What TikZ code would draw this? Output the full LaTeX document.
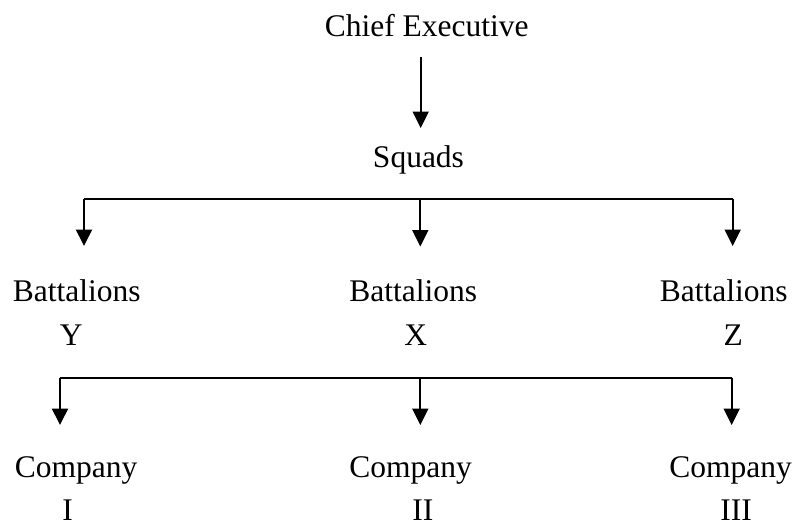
\documentclass[tikz,border=0pt]{standalone}
\usepackage{fontspec}
\setmainfont{Liberation Serif}
\usetikzlibrary{arrows.meta}
\begin{document}
\begin{tikzpicture}[x=1pt,y=-1pt,
  lbl/.style={anchor=base,inner sep=0pt,font=\fontsize{31.5}{38}\selectfont},
  wire/.style={line width=2pt},
  arr/.style={wire,-{Triangle[length=16.5pt,width=16pt]}}]
\useasboundingbox (0,0) rectangle (796,525);
% texts
\node[lbl] (ce) at (426.7,36) {Chief Executive};
\node[lbl] (sq) at (418.5,167.7) {Squads};
\node[lbl] (bY) at (76.7,301) {Battalions};
\node[lbl] (bX) at (413.3,301) {Battalions};
\node[lbl] (bZ) at (723.7,301) {Battalions};
\node[lbl] (lY) at (71.3,345) {Y};
\node[lbl] (lX) at (415.7,345) {X};
\node[lbl] (lZ) at (733.3,345) {Z};
\node[lbl] (cI) at (76,477.5) {Company};
\node[lbl] (cII) at (410.5,477.5) {Company};
\node[lbl] (cIII) at (730.5,477.5) {Company};
\node[lbl] (nI) at (67.5,520.5) {I};
\node[lbl] (nII) at (422.8,520.5) {II};
\node[lbl] (nIII) at (736,520.5) {III};
% connector points
\coordinate (ceOut) at (420.7,57);
\coordinate (sqIn) at (420.7,128);
\coordinate (busAL) at (84,199);
\coordinate (busAM) at (420.3,199);
\coordinate (busAR) at (732.7,199);
\coordinate (tAL) at (84,246);
\coordinate (tAM) at (420.3,246.5);
\coordinate (tAR) at (732.7,246);
\coordinate (busBL) at (60,377.5);
\coordinate (busBM) at (420.3,377.5);
\coordinate (busBR) at (731.7,377.5);
\coordinate (tBL) at (60,425);
\coordinate (tBM) at (420.3,425);
\coordinate (tBR) at (731.7,425);
% connectors
\draw[arr] (ceOut) -- (sqIn);
\draw[wire] (busAL) -- (busAR);
\draw[arr] (busAL) -- (tAL);
\draw[arr] (busAM) -- (tAM);
\draw[arr] (busAR) -- (tAR);
\draw[wire] (busBL) -- (busBR);
\draw[arr] (busBL) -- (tBL);
\draw[arr] (busBM) -- (tBM);
\draw[arr] (busBR) -- (tBR);
\end{tikzpicture}
\end{document}
